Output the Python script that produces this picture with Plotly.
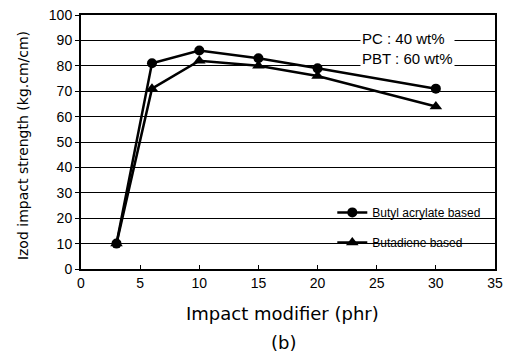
import plotly.graph_objects as go

modifier_phr = [3, 6, 10, 15, 20, 30]
butyl_acrylate = [10, 81, 86, 83, 79, 71]
butadiene = [10, 71, 82, 80, 76, 64]
series_names = ["Butyl acrylate based", "Butadiene based"]

fig = go.Figure()
fig.add_trace(go.Scatter(x=modifier_phr, y=butyl_acrylate, mode="lines+markers",
                         name=series_names[0], legendgroup="a",
                         line=dict(color="black", width=2.5),
                         marker=dict(symbol="circle", size=10, color="black")))
fig.add_trace(go.Scatter(x=modifier_phr, y=butadiene, mode="lines+markers",
                         name=series_names[1], legendgroup="b",
                         line=dict(color="black", width=2.5),
                         marker=dict(symbol="triangle-up", size=11, color="black")))

fig.update_layout(
    width=509, height=356,
    margin=dict(l=81, r=14, t=15, b=87),
    paper_bgcolor="white", plot_bgcolor="white",
    font=dict(family="Liberation Sans, Arial, sans-serif", color="black"),
    showlegend=True,
    legend=dict(x=0.607, y=0.28, xanchor="left", yanchor="top",
                bgcolor="rgba(255,255,255,0)", font=dict(size=12),
                traceorder="grouped", tracegroupgap=11, itemwidth=30),
    xaxis=dict(range=[0, 35], dtick=5, showgrid=False, showline=True,
               linecolor="black", linewidth=2, mirror=True,
               ticks="inside", ticklen=4, tickcolor="black",
               tickfont=dict(size=14), zeroline=False, automargin=False),
    yaxis=dict(range=[0, 100], dtick=10, showgrid=True, gridcolor="black", gridwidth=1,
               showline=True, linecolor="black", linewidth=2, mirror=True,
               ticks="outside", ticklen=4, tickcolor="black",
               tickfont=dict(size=14), zeroline=False, automargin=False),
)

fig.add_annotation(xref="paper", yref="paper", x=0.487, y=-0.177, xanchor="center", yanchor="middle",
                   text="Impact modifier (phr)", showarrow=False,
                   font=dict(size=18, family="DejaVu Sans, sans-serif"))
fig.add_annotation(xref="paper", yref="paper", x=-0.14, y=0.484, xanchor="center", yanchor="middle",
                   text="Izod impact strength (kg.cm/cm)", showarrow=False, textangle=-90,
                   font=dict(size=14, family="DejaVu Sans, sans-serif"))
fig.add_annotation(xref="paper", yref="paper", x=0.675, y=0.95, xanchor="left", yanchor="top",
                   text="PC : 40 wt%<br>PBT : 60 wt%", showarrow=False, align="left",
                   bgcolor="white", font=dict(size=15))
fig.add_annotation(xref="paper", yref="paper", x=0.488, y=-0.29, xanchor="center", yanchor="middle",
                   text="(b)", showarrow=False,
                   font=dict(size=18, family="DejaVu Sans, sans-serif"))

fig.write_html("out.html", config={"displayModeBar": False},
               post_script="document.body.style.margin='0';document.body.style.padding='0';")
